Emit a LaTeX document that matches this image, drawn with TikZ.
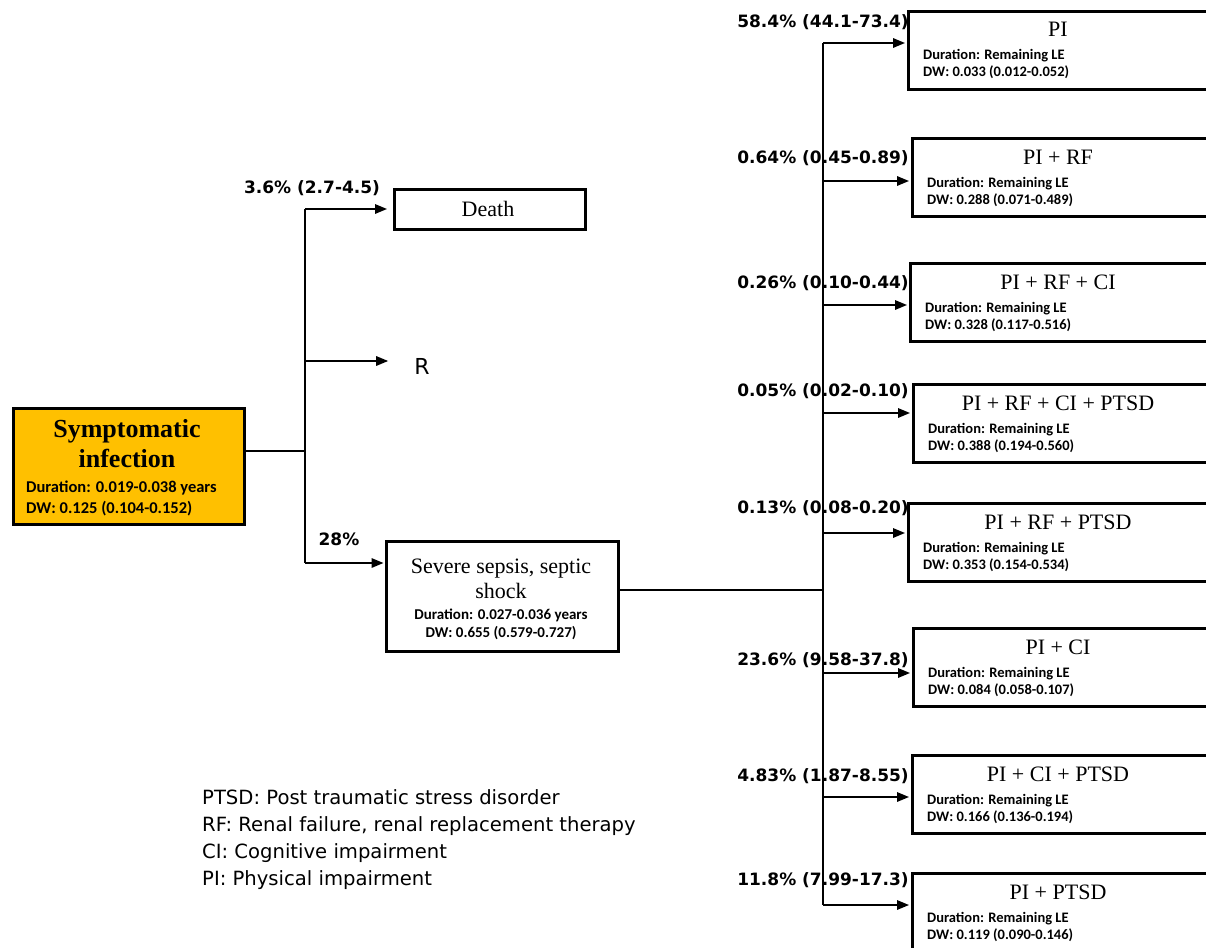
\documentclass[tikz,border=0pt]{standalone}
\usepackage{fontspec}
\setmainfont{Liberation Serif}
\newfontfamily\calfont{Carlito}
\newfontfamily\tahfont{DejaVu Sans}
\usetikzlibrary{arrows.meta}
\definecolor{amber}{HTML}{FFC000}

\tikzset{
  box/.style={draw, line width=3.2pt, inner sep=0pt},
  link/.style={line width=1.6pt},
  arr/.style={line width=1.6pt, -{Triangle[length=12pt,width=9.5pt]}},
  ttl/.style={inner sep=0pt, font=\fontsize{22}{24}\selectfont},
  bigttl/.style={inner sep=0pt, font=\bfseries\fontsize{26}{28}\selectfont},
  note/.style={inner sep=0pt, font=\calfont\bfseries\fontsize{14.5}{16}\selectfont},
  bignote/.style={inner sep=0pt, font=\calfont\bfseries\fontsize{16.5}{18}\selectfont},
  midnote/.style={inner sep=0pt, font=\calfont\bfseries\fontsize{15}{17}\selectfont},
  lab/.style={inner sep=0pt, font=\tahfont\bfseries\fontsize{17}{19}\selectfont},
  legend/.style={inner sep=0pt, anchor=base west, font=\tahfont\fontsize{19.6}{22}\selectfont},
}

% outcome box: name, left, top, title, DW, arrow y, label, label baseline
\newcommand\outcome[8]{%
  \node[box, anchor=north west, minimum width=330, minimum height=78] (#1) at (#2,#3) {};
  \node[ttl, anchor=base] (#1t) at (1058,#3+27) {#4};
  \node[note, anchor=base west] (#1d) at (#2+16,#3+50) {Duration: Remaining LE};
  \node[note, anchor=base west] (#1w) at (#2+16,#3+67) {DW: #5};
  \coordinate (#1a) at (823,#6);
  \draw[arr, shorten >=2pt] (#1a) -- (#1a -| #1.west);
  \node[lab, anchor=base] (#1l) at (823,#8) {#7};
}

\begin{document}
\begin{tikzpicture}[x=1pt, y=-1pt]
\useasboundingbox (0,0) rectangle (1206,947);
\clip (0,0) rectangle (1206,947);

% starting state
\node[box, fill=amber, anchor=north west, minimum width=231, minimum height=116] (sym) at (12,407) {};
\node[bigttl, anchor=base] (symt1) at (127,437) {Symptomatic};
\node[bigttl, anchor=base] (symt2) at (127,467) {infection};
\node[bignote, anchor=base west] (symd) at (26,492) {Duration: 0.019-0.038 years};
\node[bignote, anchor=base west] (symw) at (26,513) {DW: 0.125 (0.104-0.152)};

% first split
\coordinate (j1) at (305,451);
\coordinate (a1) at (305,209);
\coordinate (a2) at (305,361);
\coordinate (a3) at (305,563);
\draw[link] (j1 -| sym.east) -- (j1);
\draw[link] (a1) -- (a3);

\node[box, anchor=north west, minimum width=191, minimum height=40] (death) at (393,188) {};
\node[ttl, anchor=base] (deatht) at (488,216) {Death};
\draw[arr, shorten >=6pt] (a1) -- (a1 -| death.west);
\node[lab, anchor=base] (deathl) at (312,193) {3.6\% (2.7-4.5)};

\node[inner sep=0pt, anchor=base, font=\tahfont\fontsize{22}{24}\selectfont] (rec) at (422,374) {R};
\draw[arr, shorten >=26pt] (a2) -- (a2 -| rec.west);

\node[box, anchor=north west, minimum width=232, minimum height=110] (sep) at (385,540) {};
\node[ttl, anchor=base] (sept1) at (501,573) {Severe sepsis, septic};
\node[ttl, anchor=base] (sept2) at (501,598) {shock};
\node[midnote, anchor=base] (sepd) at (501,619) {Duration: 0.027-0.036 years};
\node[midnote, anchor=base] (sepw) at (501,637) {DW: 0.655 (0.579-0.727)};
\draw[arr, shorten >=1.5pt] (a3) -- (a3 -| sep.west);
\node[lab, anchor=base] (sepl) at (339,545) {28\%};

% second split
\coordinate (j2) at (823,590);
\coordinate (ttop) at (823,43);
\coordinate (tbot) at (823,905);
\draw[link] (j2 -| sep.east) -- (j2);
\draw[link] (ttop) -- (tbot);

\outcome{o1}{907}{10}{PI}{0.033 (0.012-0.052)}{43}{58.4\% (44.1-73.4)}{28}
\outcome{o2}{911}{137}{PI + RF}{0.288 (0.071-0.489)}{181}{0.64\% (0.45-0.89)}{163}
\outcome{o3}{909}{262}{PI + RF + CI}{0.328 (0.117-0.516)}{305}{0.26\% (0.10-0.44)}{288}
\outcome{o4}{912}{383}{PI + RF + CI + PTSD}{0.388 (0.194-0.560)}{413}{0.05\% (0.02-0.10)}{396}
\outcome{o5}{907}{502}{PI + RF + PTSD}{0.353 (0.154-0.534)}{533}{0.13\% (0.08-0.20)}{513}
\outcome{o6}{912}{627}{PI + CI}{0.084 (0.058-0.107)}{673}{23.6\% (9.58-37.8)}{665}
\outcome{o7}{911}{754}{PI + CI + PTSD}{0.166 (0.136-0.194)}{797}{4.83\% (1.87-8.55)}{781}
\outcome{o8}{911}{872}{PI + PTSD}{0.119 (0.090-0.146)}{905}{11.8\% (7.99-17.3)}{885}

% abbreviations
\node[legend] (lg1) at (202,804) {PTSD: Post traumatic stress disorder};
\node[legend] (lg2) at (202,831) {RF: Renal failure, renal replacement therapy};
\node[legend] (lg3) at (202,858) {CI: Cognitive impairment};
\node[legend] (lg4) at (202,885) {PI: Physical impairment};
\end{tikzpicture}
\end{document}
